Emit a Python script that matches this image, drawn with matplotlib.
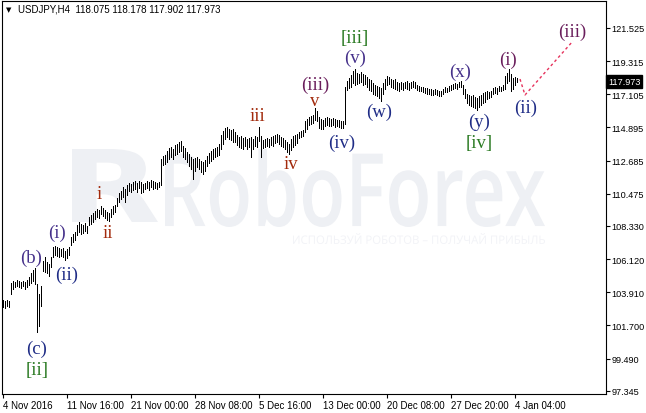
import matplotlib
matplotlib.use("Agg")
import matplotlib.pyplot as plt
from matplotlib.textpath import TextPath
from matplotlib.patches import PathPatch
from matplotlib.font_manager import FontProperties
from matplotlib.transforms import Affine2D, offset_copy

# ---------------- data ----------------
symbol = "USDJPY,H4"
last_ohlc = [118.075, 118.178, 117.902, 117.973]

highs = [
    103.39, 103.32, 103.39, 103.32,
    104.52, 104.66, 104.59, 104.72, 104.66, 104.59, 104.66, 104.59, 104.72, 104.92, 105.19, 105.39, 105.52, 104.46, 103.79, 104.32,
    105.99, 106.26, 105.92, 105.79, 106.26, 106.92, 106.99, 106.92, 106.86, 106.79, 106.86, 106.66, 106.79, 106.92, 107.59, 107.79, 107.92, 108.39, 108.59, 108.46,
    108.39, 108.52, 108.32, 108.92, 109.06, 109.19, 109.32, 109.46, 109.39, 109.66, 109.52, 109.39, 109.26, 109.19, 109.46, 109.66, 109.72, 110.19, 110.52, 110.66,
    110.92, 110.79, 111.06, 111.19, 111.12, 111.26, 111.32, 111.19, 111.32, 111.26, 111.12, 111.19, 111.32, 111.26, 111.39, 111.32, 111.26, 111.19, 111.26, 112.79,
    112.99, 113.06, 113.32, 113.52, 113.59, 113.46, 113.72, 113.79, 113.92, 113.99, 113.66, 113.52, 113.26, 113.12, 112.92, 112.79, 112.86, 112.92, 112.79, 112.66,
    112.59, 112.72, 112.99, 113.19, 113.32, 113.46, 113.52, 113.59, 113.79, 114.39, 114.66, 114.86, 114.92, 114.79, 114.72, 114.79, 114.59, 114.39, 114.26, 114.32,
    114.19, 114.26, 114.12, 114.19, 114.26, 114.12, 114.32, 114.26, 114.92, 114.32, 114.06, 114.12, 114.19, 114.12, 114.26, 114.32, 114.39, 114.46, 114.39, 114.26,
    114.19, 114.06, 113.92, 113.79, 114.12, 114.32, 114.39, 114.46, 114.59, 114.66, 114.72, 115.32, 115.46, 115.59, 115.66, 115.72, 116.19, 115.99, 115.59, 115.46,
    115.39, 115.52, 115.59, 115.52, 115.46, 115.52, 115.46, 115.39, 115.39, 115.32, 115.32, 117.59, 117.99, 118.19, 118.39, 118.66, 118.79, 118.52, 118.46, 118.59,
    118.46, 118.39, 118.26, 118.12, 118.06, 117.86, 117.73, 117.66, 117.59, 117.52, 117.86, 118.12, 118.33, 118.26, 118.12, 118.06, 118.12, 117.92, 117.86, 117.92,
    117.86, 117.92, 117.99, 117.86, 117.92, 117.99, 117.92, 117.73, 117.66, 117.59, 117.59, 117.52, 117.52, 117.46, 117.46, 117.39, 117.46, 117.39, 117.33, 117.33,
    117.46, 117.59, 117.52, 117.66, 117.73, 117.79, 117.86, 117.79, 117.92, 117.99, 117.73, 117.46, 117.12, 117.06, 116.99, 117.06, 116.92, 116.86, 116.99, 117.06,
    117.19, 117.26, 117.33, 117.26, 117.33, 117.52, 117.59, 117.52, 117.66, 117.59, 117.73, 118.33, 118.52, 118.79, 118.46, 118.19, 118.26, 118.178,
]

lows = [
    102.92, 102.86, 102.99, 102.92,
    103.79, 104.12, 104.26, 104.32, 104.26, 104.19, 104.32, 104.12, 104.26, 104.39, 104.52, 104.66, 104.46, 101.26, 101.66, 102.99,
    105.32, 105.26, 105.19, 104.99, 105.59, 106.26, 106.39, 106.32, 106.26, 106.32, 106.26, 106.06, 106.19, 106.39, 107.06, 107.26, 107.39, 107.72, 107.92, 107.79,
    107.86, 107.99, 107.86, 108.39, 108.46, 108.59, 108.79, 108.92, 108.86, 109.12, 108.99, 108.86, 108.72, 108.66, 108.92, 109.12, 109.26, 109.66, 109.92, 110.12,
    110.26, 109.92, 110.39, 110.66, 110.59, 110.72, 110.79, 110.59, 110.86, 110.52, 110.59, 110.79, 110.86, 110.72, 110.92, 110.79, 110.86, 110.79, 110.92, 111.06,
    112.39, 112.46, 112.59, 112.79, 112.92, 112.79, 113.06, 113.12, 113.26, 113.32, 112.92, 112.79, 112.59, 112.32, 112.12, 111.46, 111.99, 112.26, 112.12, 111.92,
    111.79, 111.99, 112.32, 112.52, 112.66, 112.79, 112.92, 112.99, 113.06, 113.46, 113.79, 114.12, 114.26, 114.12, 114.06, 113.92, 113.92, 113.72, 113.59, 113.52,
    113.46, 113.66, 113.46, 113.59, 112.92, 113.46, 113.66, 113.59, 113.99, 112.92, 113.52, 113.59, 113.66, 113.59, 113.72, 113.66, 113.86, 113.92, 113.79, 113.66,
    113.59, 113.46, 113.26, 113.12, 113.39, 113.59, 113.72, 113.86, 114.19, 114.26, 114.32, 114.59, 114.79, 115.06, 115.12, 115.19, 115.39, 115.32, 114.86, 114.79,
    114.79, 114.99, 115.06, 114.99, 114.99, 115.06, 114.92, 114.99, 114.92, 114.86, 114.86, 115.12, 117.39, 117.52, 117.59, 117.86, 117.73, 117.79, 117.86, 117.92,
    117.73, 117.79, 117.59, 117.39, 117.33, 117.12, 117.06, 116.99, 116.86, 116.66, 117.12, 117.46, 117.73, 117.79, 117.59, 117.52, 117.46, 117.39, 117.33, 117.46,
    117.39, 117.52, 117.46, 117.39, 117.52, 117.59, 117.52, 117.39, 117.33, 117.33, 117.26, 117.19, 117.12, 117.12, 117.06, 117.06, 117.12, 117.06, 116.99, 116.99,
    117.12, 117.26, 117.26, 117.33, 117.39, 117.46, 117.52, 117.46, 117.59, 117.59, 117.12, 116.86, 116.52, 116.39, 116.32, 116.26, 116.19, 116.06, 116.26, 116.39,
    116.52, 116.59, 116.79, 116.86, 116.92, 117.12, 117.19, 117.12, 117.33, 117.33, 117.39, 117.46, 117.86, 117.99, 117.33, 117.46, 117.73, 117.902,
]

time_tick_bars = [0, 32, 64, 96, 128, 160, 192, 224, 256]
time_tick_labels = ["4 Nov 2016", "11 Nov 16:00", "21 Nov 00:00", "28 Nov 08:00",
                    "5 Dec 16:00", "13 Dec 00:00", "20 Dec 08:00", "27 Dec 20:00",
                    "4 Jan 04:00"]
price_ticks = [121.525, 119.315, 117.105, 114.895, 112.685, 110.475,
               108.330, 106.120, 103.910, 101.700, 99.490, 97.345]
price_tick_labels = ["121.525", "119.315", "117.105", "114.895", "112.685", "110.475",
                     "108.330", "106.120", "103.910", "101.700", "99.490", "97.345"]

NAVY = "#1f2c86"
PURPLE = "#45308a"
PLUM = "#6a1e5c"
RED = "#a22a0c"
GREEN = "#2a7a22"

# (text, bar position, price, colour)
wave_labels = [
    ("[ii]", 17, 98.79, GREEN),
    ("(c)", 17, 100.19, NAVY),
    ("(b)", 14, 106.26, PURPLE),
    ("(i)", 27, 107.92, PURPLE),
    ("(ii)", 32, 105.12, NAVY),
    ("i", 48, 110.46, RED),
    ("ii", 52.5, 107.92, RED),
    ("iii", 127, 115.66, RED),
    ("iv", 144, 112.46, RED),
    ("v", 156, 116.72, RED),
    ("(iii)", 156, 117.75, PLUM),
    ("(iv)", 169.5, 113.92, NAVY),
    ("(v)", 176, 119.59, PURPLE),
    ("[iii]", 176, 120.86, GREEN),
    ("(w)", 188, 115.99, NAVY),
    ("(x)", 228.5, 118.66, PURPLE),
    ("(y)", 238, 115.32, NAVY),
    ("[iv]", 238, 113.86, GREEN),
    ("(i)", 252.5, 119.46, PLUM),
    ("(ii)", 261.5, 116.26, NAVY),
    ("(iii)", 284.5, 121.32, PLUM),
]

forecast_bars = [258.5, 261, 285]
forecast_prices = [118.12, 117.06, 120.66]

# ---------------- figure ----------------
W, H = 646, 414
fig = plt.figure(figsize=(W / 100, H / 100), dpi=100)
fig.patch.set_facecolor("white")
ax = fig.add_axes([2 / W, 19 / H, 604 / W, 393 / H])
ax.set_xlim(-0.5, 301.5)
ax.set_ylim(97.125, 123.325)


def fitted_text(s, prop, x0, y0, x1, y1, color, z=0):
    """Watermark text scaled to fit an image-pixel box (top-left origin)."""
    tp = TextPath((0, 0), s, prop=prop, size=100)
    ext = tp.get_extents()
    sx = (x1 - x0) / ext.width
    sy = (y1 - y0) / ext.height
    tr = (Affine2D().translate(-ext.x0, -ext.y0).scale(sx, sy)
          .translate(x0, H - y1))
    patch = PathPatch(tp, transform=tr, facecolor=color, edgecolor="none",
                      zorder=z)
    ax.add_artist(patch)


fitted_text("R", FontProperties(family="DejaVu Sans", weight="bold"),
            72, 150, 158, 223, "#eef0f4")
fitted_text("RoboForex", FontProperties(family="Open Sans", weight="semibold"),
            165, 150, 545, 228, "#eef0f4")
fitted_text("ИСПОЛЬЗУЙ РОБОТОВ – ПОЛУЧАЙ ПРИБЫЛЬ",
            FontProperties(family="Open Sans"), 293, 234, 545, 245, "#f2f3f7")

bars = list(range(len(highs)))
ax.vlines(bars, lows, highs, colors="black", linewidth=0.6,
          antialiased=False, zorder=3)

ax.plot(forecast_bars, forecast_prices, color="#e6325c", linewidth=1.0,
        linestyle=(0, (2, 2)), zorder=4)

for txt, b, p, c in wave_labels:
    ax.text(b, p, txt, color=c, fontsize=13.5, family="Liberation Serif",
            ha="center", va="center", zorder=5)

# axes styling
for sp in ax.spines.values():
    sp.set_color("black")
    sp.set_linewidth(0.8)

ax.set_xticks(time_tick_bars)
ax.set_xticklabels(time_tick_labels, ha="left", fontsize=7,
                   family="Liberation Sans")
ax.yaxis.tick_right()
ax.set_yticks(price_ticks)
ax.set_yticklabels(price_tick_labels, fontsize=6.6, family="Liberation Sans")
ax.tick_params(axis="x", direction="out", length=3, width=0.8, pad=1.5)
ax.tick_params(axis="y", direction="out", length=3, width=0.8, pad=1.2)

# last price marker
ptr = offset_copy(ax.get_yaxis_transform(), fig=fig, x=2, y=0, units="dots")
ax.text(1.0, last_ohlc[3], f"{last_ohlc[3]:.3f}", transform=ptr, ha="left",
        va="center", color="white", fontsize=6.6, family="Liberation Sans",
        bbox=dict(boxstyle="square,pad=0.2", facecolor="black",
                  edgecolor="black"), clip_on=False, zorder=6)

# header
fig.text(6 / W, 1 - 10 / H, "▼", fontsize=5, family="DejaVu Sans",
         va="center", ha="left", color="black")
fig.text(18 / W, 1 - 10 / H,
         f"{symbol}  " + " ".join(f"{v:.3f}" for v in last_ohlc),
         fontsize=7, family="Liberation Sans", va="center", ha="left",
         color="black")

fig.savefig("out.png", dpi=100, facecolor="white")
